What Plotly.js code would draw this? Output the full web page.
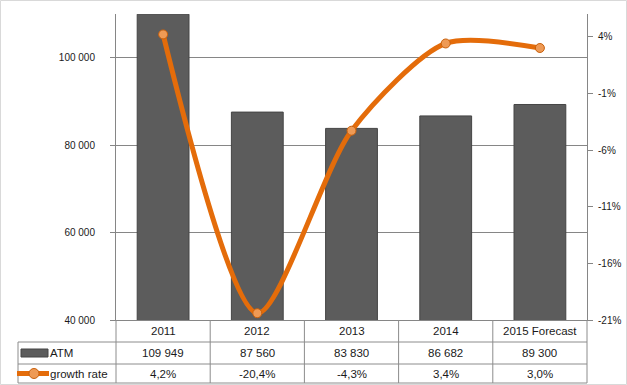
<!DOCTYPE html>
<html>
<head>
<meta charset="utf-8">
<script src="https://cdn.plot.ly/plotly-3.0.1.min.js"></script>
<style>html,body{margin:0;padding:0;background:#fff;}#chart{width:627px;height:385px;}</style>
</head>
<body>
<div id="chart"></div>
<script>
// ---- data ----
const categories = ['2011', '2012', '2013', '2014', '2015 Forecast'];
const atmValues = [109949, 87560, 83830, 86682, 89300];
const growthRate = [4.2, -20.4, -4.3, 3.4, 3.0]; // percent
const leftTickVals = [40000, 60000, 80000, 100000];
const rightTickVals = [-21, -16, -11, -6, -1, 4];
const seriesNames = ['ATM', 'growth rate'];

// ---- helpers ----
const fmtThousands = n => String(n).replace(/\B(?=(\d{3})+(?!\d))/g, ' ');
const fmtPct = v => v.toFixed(1).replace('.', ',') + '%';

const W = 627, H = 385;
const M = {l: 116, r: 40, t: 14, b: 65};
const PW = W - M.l - M.r, PH = H - M.t - M.b;
const px = x => (x - M.l) / PW;            // pixel -> paper x
const py = y => (H - M.b - y) / PH;         // pixel -> paper y

const gridCol = '#868686';
const tableCol = '#8c8c8c';
const barCol = '#5c5c5c';
const barLine = '#454545';
const font = 'Liberation Sans, Arial, sans-serif';

const traces = [
  {
    type: 'bar', name: seriesNames[0], x: categories, y: atmValues, yaxis: 'y',
    width: 0.55,
    marker: {color: barCol, line: {color: barLine, width: 1}},
    hoverinfo: 'skip'
  },
  {
    type: 'scatter', name: seriesNames[1], x: categories, y: growthRate, yaxis: 'y2',
    mode: 'lines+markers', cliponaxis: false,
    line: {shape: 'spline', smoothing: 0.75, color: '#E46C0A', width: 5},
    marker: {size: 9, color: '#EE9A55', line: {color: '#C8600C', width: 1}},
    hoverinfo: 'skip'
  }
];

// table geometry
const rowY = [320, 342, 364, 383];
const leftColX = 18;
const shapes = [];
// outer chart border
shapes.push({type: 'rect', xref: 'paper', yref: 'paper', x0: px(0.5), x1: px(W - 0.5), y0: py(H - 0.5), y1: py(0.5),
  line: {color: '#d9d9d9', width: 1}, fillcolor: 'rgba(0,0,0,0)'});
// horizontal table lines
[1, 2, 3].forEach(i => shapes.push({type: 'line', xref: 'paper', yref: 'paper',
  x0: px(leftColX), x1: 1, y0: py(rowY[i]), y1: py(rowY[i]), line: {color: tableCol, width: 1}}));
// vertical table lines at category boundaries
for (let i = 0; i <= categories.length; i++) {
  shapes.push({type: 'line', xref: 'paper', yref: 'paper', x0: i / categories.length, x1: i / categories.length,
    y0: 0, y1: py(rowY[3]), line: {color: tableCol, width: 1}});
}
shapes.push({type: 'line', xref: 'paper', yref: 'paper', x0: px(leftColX), x1: px(leftColX),
  y0: py(rowY[1]), y1: py(rowY[3]), line: {color: tableCol, width: 1}});
// legend keys
shapes.push({type: 'rect', xref: 'paper', yref: 'paper', x0: px(21), x1: px(48), y0: py(357), y1: py(349),
  fillcolor: barCol, line: {color: barLine, width: 1}});
shapes.push({type: 'line', xref: 'paper', yref: 'paper', x0: px(17), x1: px(49), y0: py(373.5), y1: py(373.5),
  line: {color: '#E46C0A', width: 5}});
shapes.push({type: 'circle', xref: 'paper', yref: 'paper', x0: px(29), x1: px(39), y0: py(378.5), y1: py(368.5),
  fillcolor: '#EE9A55', line: {color: '#C8600C', width: 1}});

const annotations = [];
const rowMid = i => py((rowY[i] + rowY[i + 1]) / 2);
categories.forEach((c, i) => {
  // category axis: position by category index
  annotations.push({xref: 'x', yref: 'paper', x: i, y: rowMid(0), text: c, showarrow: false, yanchor: 'middle', xanchor: 'center'});
  annotations.push({xref: 'x', yref: 'paper', x: i, y: rowMid(1), text: fmtThousands(atmValues[i]), showarrow: false, yanchor: 'middle', xanchor: 'center'});
  annotations.push({xref: 'x', yref: 'paper', x: i, y: rowMid(2), text: fmtPct(growthRate[i]), showarrow: false, yanchor: 'middle', xanchor: 'center'});
});
annotations.push({xref: 'paper', yref: 'paper', x: px(48), y: rowMid(1), text: seriesNames[0], showarrow: false, xanchor: 'left', yanchor: 'middle'});
annotations.push({xref: 'paper', yref: 'paper', x: px(48), y: rowMid(2), text: seriesNames[1], showarrow: false, xanchor: 'left', yanchor: 'middle'});

const layout = {
  width: W, height: H,
  margin: {l: M.l, r: M.r, t: M.t, b: M.b, pad: 0},
  paper_bgcolor: '#fff', plot_bgcolor: '#fff',
  separators: ', ',
  showlegend: false,
  font: {family: font, size: 11.5, color: '#1a1a1a'},
  xaxis: {
    type: 'category', range: [-0.5, categories.length - 0.5],
    showticklabels: false, ticks: '', showgrid: false, zeroline: false,
    showline: true, linecolor: gridCol, linewidth: 1
  },
  yaxis: {
    range: [40000, 110000], tickvals: leftTickVals, tickformat: ',',
    showgrid: true, gridcolor: gridCol, gridwidth: 1, zeroline: false,
    showline: true, linecolor: gridCol, linewidth: 1,
    ticks: 'outside', ticklen: 5, tickcolor: gridCol,
    tickfont: {family: font, size: 10, color: '#1a1a1a'},
    ticklabelstandoff: 13
  },
  yaxis2: {
    overlaying: 'y', side: 'right', range: [-21, 6],
    tickvals: rightTickVals, ticktext: rightTickVals.map(v => v + '%'),
    showgrid: false, zeroline: false,
    showline: true, linecolor: gridCol, linewidth: 1,
    ticks: 'outside', ticklen: 5, tickcolor: gridCol,
    tickfont: {family: font, size: 10, color: '#1a1a1a'},
    ticklabelstandoff: 3
  },
  shapes: shapes,
  annotations: annotations
};

Plotly.newPlot('chart', traces, layout, {staticPlot: true, displayModeBar: false});
</script>
</body>
</html>
